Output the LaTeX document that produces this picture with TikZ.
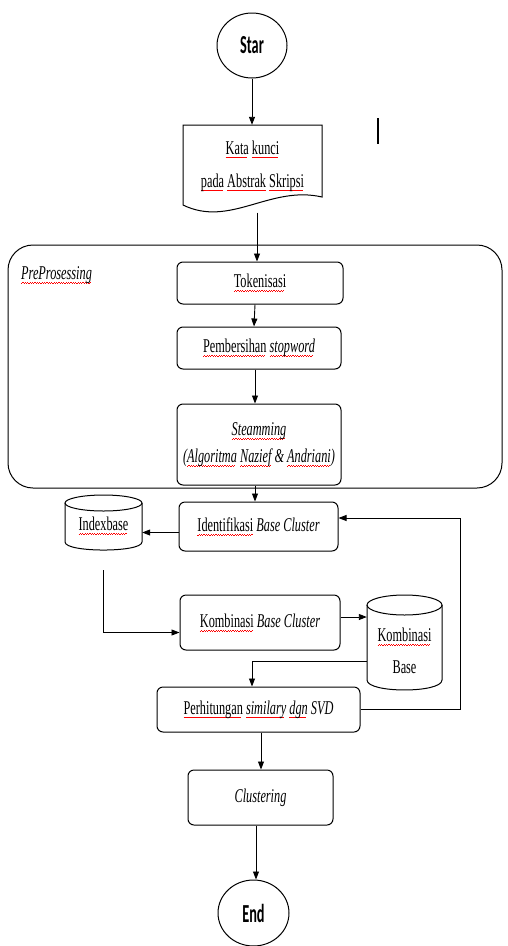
\documentclass[tikz,border=0pt]{standalone}
\usepackage{fontspec}
\setmainfont[FakeStretch=0.63]{Liberation Serif}
\newfontfamily\sansb[FakeStretch=0.55]{Carlito}
\usetikzlibrary{arrows.meta,shapes.geometric}
\newsavebox\sqbox
\newcommand\sq[1]{\sbox\sqbox{#1}\leavevmode\rlap{\textcolor{red}{\raisebox{-3.8pt}{\hbox to \wd\sqbox{\leaders\hbox{\rule[0pt]{1.2pt}{0.6pt}\rule[0.7pt]{1.2pt}{0.6pt}}\hfill}}}}\usebox\sqbox}
\tikzset{
  txt/.style={font=\fontsize{19.5}{27}\selectfont, align=center, inner sep=0pt},
  box/.style={txt, draw, rounded corners=6pt, line width=1pt},
  term/.style={draw, ellipse, line width=1pt, inner sep=0pt, font=\sansb\bfseries\fontsize{26}{30}\selectfont},
  arr/.style={-{Triangle[length=8pt,width=6pt]}, line width=0.9pt},
  ln/.style={line width=0.9pt},
  shp/.style={line width=1pt}
}
\begin{document}
\begin{tikzpicture}[x=1pt,y=-1pt]
\useasboundingbox (0,0) rectangle (507,946);
% terminals
\node[term, minimum width=70pt, minimum height=65pt] (star) at (252,45.5) {Star};
\node[term, minimum width=71pt, minimum height=66pt] (end) at (253.5,913) {End};
% document shape
\node[inner sep=0pt, minimum width=139pt, minimum height=80pt] (doc) at (252.5,165) {};
\draw[shp] (183,125) -- (322,125) -- (322,197) .. controls (270,185) and (230,228) .. (183,205) -- cycle;
\node[txt, font=\fontsize{19.5}{33}\selectfont] (doctext) at (252.5,166) {\sq{Kata} \sq{kunci}\\\sq{pada} \sq{Abstrak} \sq{Skripsi}};
\coordinate (docb) at (257,212.5);
% stray mark
\draw[line width=2pt] (378,118) -- (378,144);
% preprocessing container
\node[draw, rounded corners=25pt, line width=1pt, minimum width=494pt, minimum height=243pt, inner sep=0pt] (pre) at (255,366.5) {};
\node[txt, anchor=west] (prelabel) at (21,275) {\textit{\sq{PreProsessing}}};
% process boxes
\node[box, minimum width=166pt, minimum height=42pt] (tok) at (260,283) {\sq{Tokenisasi}};
\node[box, minimum width=164pt, minimum height=42pt] (pem) at (259,348) {\sq{Pembersihan} \textit{\sq{stopword}}};
\node[box, minimum width=164pt, minimum height=81pt] (stem) at (259,444.5) {\textit{\sq{Steamming}}\\\textit{(\sq{Algoritma} \sq{Nazief} \& \sq{Andriani})}};
\node[box, minimum width=159pt, minimum height=49pt] (ident) at (258.5,526.5) {\sq{Identifikasi} \textit{Base Cluster}};
\node[box, minimum width=160pt, minimum height=55pt] (kbc) at (260,622.5) {\sq{Kombinasi} \textit{Base Cluster}};
\node[box, minimum width=203pt, minimum height=45pt] (perh) at (258.5,709.5) {\sq{Perhitungan} \textit{\sq{similary} \sq{dgn} SVD}};
\node[box, minimum width=145pt, minimum height=55pt] (clust) at (260.5,797.5) {\textit{Clustering}};
% Indexbase cylinder
\node[inner sep=0pt, minimum width=77pt, minimum height=55pt] (idx) at (103.5,522.5) {};
\draw[shp] (65,503) -- (65,542) .. controls (65,552.7) and (142,552.7) .. (142,542) -- (142,503);
\draw[shp] (103.5,503) ellipse [x radius=38.5pt, y radius=8pt];
\node[txt] (idxtext) at (103.5,526) {\sq{Indexbase}};
% Kombinasi Base cylinder
\node[inner sep=0pt, minimum width=75pt, minimum height=95pt] (kb) at (404.5,642.5) {};
\draw[shp] (367,605) -- (367,680) .. controls (367,693.3) and (442,693.3) .. (442,680) -- (442,605);
\draw[shp] (404.5,605) ellipse [x radius=37.5pt, y radius=10pt];
\node[txt] (kbtext1) at (404.5,637) {\sq{Kombinasi}};
\node[txt] (kbtext2) at (404.5,667) {Base};
% connectors
\draw[arr] (star.south) -- (doc.north -| star.south);
\draw[arr] (docb) -- (tok.north -| docb);
\draw[arr] ([xshift=-5pt]tok.south) -- ([xshift=-5pt]pem.north);
\draw[arr] ([xshift=-4pt]pem.south) -- ([xshift=-4pt]stem.north);
\draw[arr] ([xshift=-4pt]stem.south) -- ([xshift=-3.5pt]ident.north);
\draw[arr] ([yshift=-6pt]ident.west) -- ([yshift=-6pt]ident.west -| idx.east);
\coordinate (idxfree) at (103,570);
\draw[arr] (idxfree) |- ([yshift=-10pt]kbc.west);
\draw[arr] ([yshift=5.5pt]kbc.east) -- ([yshift=5.5pt]kbc.east -| kb.west);
\coordinate (kbl) at (367,661);
\draw[arr] (kbl) -| ([xshift=-6.5pt]perh.north);
\coordinate (loop) at (460,709.5);
\draw[arr] (perh.east) -- (loop) |- ([yshift=8.5pt]ident.east);
\draw[arr] ([xshift=2.5pt]perh.south) -- ([xshift=0.5pt]clust.north);
\draw[arr] ([xshift=-4.5pt]clust.south) -- ([xshift=-4.5pt]clust.south |- end.north);
\end{tikzpicture}
\end{document}
